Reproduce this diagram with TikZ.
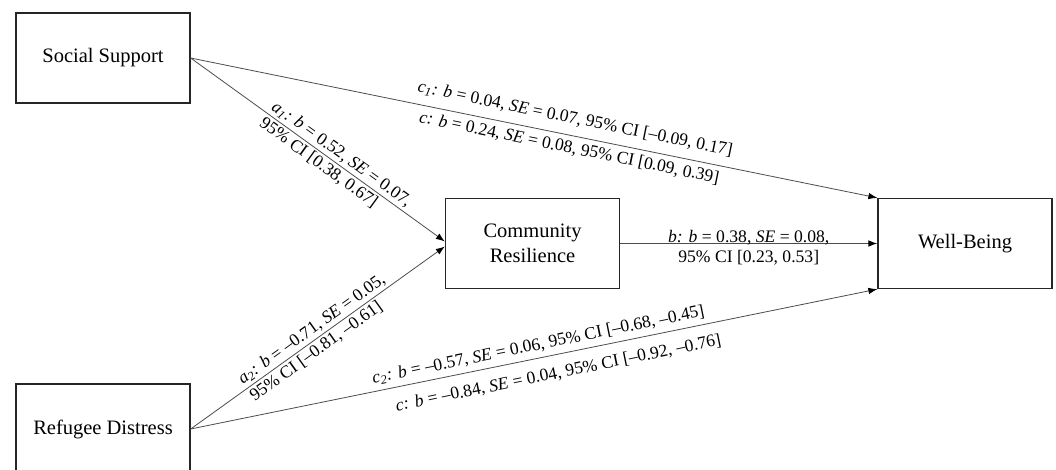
\documentclass[tikz,border=0pt]{standalone}
\usepackage{fontspec}
\setmainfont{Liberation Serif}
\usetikzlibrary{arrows.meta}
\begin{document}
\begin{tikzpicture}[x=1pt,y=1pt,
  box/.style={draw=black!85, line width=1.3pt, minimum width=174pt, minimum height=90pt,
    align=center, inner sep=0pt, font=\fontsize{20.5}{25}\selectfont},
  conn/.style={draw=black!70, line width=0.8pt, -{Latex[length=9pt,width=6.5pt,color=black]}},
  lab/.style={sloped, inner sep=0pt, font=\fontsize{17.6}{20.5}\selectfont}]
\useasboundingbox (0,0) rectangle (1056,-470);
\node[box] (ss) at (103,-58) {Social Support};
\node[box] (cr) at (532.5,-243.5) {Community\\Resilience};
\node[box] (wb) at (965,-243.5) {Well-Being};
\node[box] (rd) at (103,-429) {Refugee Distress};
\draw[conn] (ss.east) -- (wb.north west)
  node[lab, pos=0.555, above=9pt] {\textit{c\textsubscript{1}: b} = 0.04, \textit{SE} = 0.07, 95\% CI [--0.09, 0.17]}
  node[lab, pos=0.555, below=5pt] {\textit{c: b} = 0.24, \textit{SE} = 0.08, 95\% CI [0.09, 0.39]};
\draw[conn] (ss.east) -- ([yshift=2pt]cr.west)
  node[lab, pos=0.57, align=left] {\textit{a\textsubscript{1}: b} = 0.52, \textit{SE} = 0.07,\\95\% CI [0.38, 0.67]};
\draw[conn] (rd.east) -- ([yshift=-3pt]cr.west)
  node[lab, pos=0.5, align=left] {\textit{a\textsubscript{2}: b} = --0.71, \textit{SE} = 0.05,\\95\% CI [--0.81, --0.61]};
\draw[conn] (cr.east) -- (wb.west)
  node[lab, midway, align=center, yshift=-4pt] {\textit{b: b} = 0.38, \textit{SE} = 0.08,\\95\% CI [0.23, 0.53]};
\draw[conn] (rd.east) -- (wb.south west)
  node[lab, pos=0.51, above=5pt] {\textit{c\textsubscript{2}: b} = --0.57, \textit{SE} = 0.06, 95\% CI [--0.68, --0.45]}
  node[lab, pos=0.53, below=11pt] {\textit{c: b} = --0.84, \textit{SE} = 0.04, 95\% CI [--0.92, --0.76]};
\end{tikzpicture}
\end{document}
